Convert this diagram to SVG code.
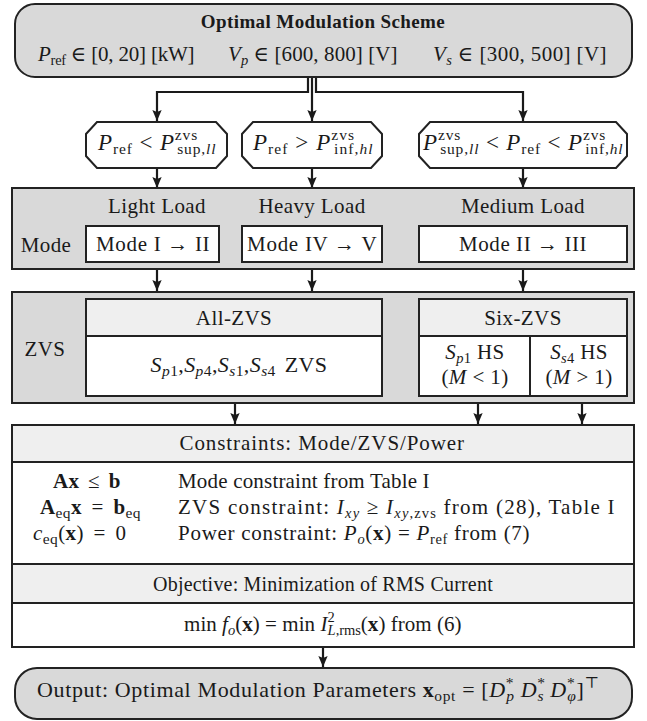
<svg xmlns="http://www.w3.org/2000/svg" width="647" height="721" viewBox="0 0 647 721">
<defs>
<style>
.t{font-family:"Liberation Serif","DejaVu Serif",serif;font-size:21px;fill:#1a1a1a;letter-spacing:0.4px}
.m{font-size:23px}
.b{font-weight:bold}
.i{font-style:italic}
.s{font-size:14.5px;letter-spacing:0.3px}
.ms{font-size:15.5px}
.bf{font-weight:bold}
.pn{fill:#d9d9d9;stroke:#222;stroke-width:2}
.hd{fill:#efefef;stroke:#222;stroke-width:2}
.wb{fill:#fff;stroke:#222;stroke-width:2}
.c{fill:none;stroke:#1a1a1a;stroke-width:2.2}
.ln{fill:none;stroke:#222;stroke-width:2}
</style>
<marker id="ah" markerWidth="11" markerHeight="13" refX="13" refY="5.5" orient="auto" markerUnits="userSpaceOnUse" viewBox="0 0 13 11">
<path d="M0,0 L13,5.5 L0,11 L2.5,5.5 z" fill="#1a1a1a"/>
</marker>
</defs>

<g id="connectors">
<path class="c" d="M308,77 V92 H157 V121" marker-end="url(#ah)"/>
<path class="c" d="M312,77 V121" marker-end="url(#ah)"/>
<path class="c" d="M316,77 V92 H523 V121" marker-end="url(#ah)"/>
<path class="c" d="M157,168 V188" marker-end="url(#ah)"/>
<path class="c" d="M312,168 V188" marker-end="url(#ah)"/>
<path class="c" d="M523,168 V188" marker-end="url(#ah)"/>
<path class="c" d="M157,269 V291" marker-end="url(#ah)"/>
<path class="c" d="M312,269 V291" marker-end="url(#ah)"/>
<path class="c" d="M523,269 V291" marker-end="url(#ah)"/>
<path class="c" d="M235,403 V424" marker-end="url(#ah)"/>
<path class="c" d="M478,403 V424" marker-end="url(#ah)"/>
<path class="c" d="M582,403 V424" marker-end="url(#ah)"/>
<path class="c" d="M323,647 V667" marker-end="url(#ah)"/>
</g>

<g id="start">
<rect class="pn" x="15" y="4" width="617" height="73" rx="20"/>
<text class="t b" x="323" y="28" text-anchor="middle" style="font-size:19px">Optimal Modulation Scheme</text>
<text class="t" x="38" y="61" textLength="157" lengthAdjust="spacing"><tspan class="i">P</tspan><tspan class="s" dy="4">ref</tspan><tspan dy="-4"> ∈ [0, 20] [kW]</tspan></text>
<text class="t" x="228" y="61" textLength="170" lengthAdjust="spacing"><tspan class="i">V</tspan><tspan class="s i" dy="4">p</tspan><tspan dy="-4"> ∈ [600, 800] [V]</tspan></text>
<text class="t" x="433" y="61" textLength="174" lengthAdjust="spacing"><tspan class="i">V</tspan><tspan class="s i" dy="4">s</tspan><tspan dy="-4"> ∈ [300, 500] [V]</tspan></text>
</g>

<g id="cond-light">
<path class="wb" d="M97,122 H216 L227,134 V156 L216,168 H97 L86,156 V134 Z"/>
<text class="t m" x="157" y="150" text-anchor="middle" textLength="118" lengthAdjust="spacing"><tspan class="i">P</tspan><tspan class="ms" dy="4">ref</tspan><tspan dy="-4"> &lt; </tspan><tspan class="i">P</tspan><tspan class="ms" dy="-10">zvs</tspan><tspan class="ms" dx="-21" dy="14">sup,</tspan><tspan class="ms i">ll</tspan></text>
</g>

<g id="cond-heavy">
<path class="wb" d="M253,122 H371 L382,134 V156 L371,168 H253 L242,156 V134 Z"/>
<text class="t m" x="313" y="150" text-anchor="middle" textLength="120" lengthAdjust="spacing"><tspan class="i">P</tspan><tspan class="ms" dy="4">ref</tspan><tspan dy="-4"> &gt; </tspan><tspan class="i">P</tspan><tspan class="ms" dy="-10">zvs</tspan><tspan class="ms" dx="-21" dy="14">inf,</tspan><tspan class="ms i">hl</tspan></text>
</g>

<g id="cond-medium">
<path class="wb" d="M430,122 H616 L627,134 V156 L616,168 H430 L419,156 V134 Z"/>
<text class="t m" x="523" y="150" text-anchor="middle" textLength="200" lengthAdjust="spacing"><tspan class="i">P</tspan><tspan class="ms" dy="-10">zvs</tspan><tspan class="ms" dx="-21" dy="14">sup,</tspan><tspan class="ms i">ll</tspan><tspan dy="-4"> &lt; </tspan><tspan class="i">P</tspan><tspan class="ms" dy="4">ref</tspan><tspan dy="-4"> &lt; </tspan><tspan class="i">P</tspan><tspan class="ms" dy="-10">zvs</tspan><tspan class="ms" dx="-21" dy="14">inf,</tspan><tspan class="ms i">hl</tspan></text>
</g>

<g id="mode-panel">
<rect class="pn" x="12" y="188" width="622" height="81"/>
<text class="t" x="157" y="213" text-anchor="middle">Light Load</text>
<text class="t" x="312" y="213" text-anchor="middle">Heavy Load</text>
<text class="t" x="523" y="213" text-anchor="middle">Medium Load</text>
<text class="t" x="46" y="252" text-anchor="middle">Mode</text>
<rect class="wb" x="86" y="226" width="133" height="36"/>
<text class="t" x="153" y="251" text-anchor="middle" textLength="114" lengthAdjust="spacing">Mode I → II</text>
<rect class="wb" x="242" y="226" width="140" height="36"/>
<text class="t" x="312" y="251" text-anchor="middle" textLength="130" lengthAdjust="spacing">Mode IV → V</text>
<rect class="wb" x="419" y="226" width="208" height="36"/>
<text class="t" x="523" y="251" text-anchor="middle" textLength="128" lengthAdjust="spacing">Mode II → III</text>
</g>

<g id="zvs-panel">
<rect class="pn" x="12" y="292" width="622" height="111"/>
<text class="t" x="45" y="356" text-anchor="middle">ZVS</text>
<rect class="hd" x="86" y="299" width="296" height="37"/>
<rect class="wb" x="86" y="336" width="296" height="60"/>
<text class="t" x="234" y="325" text-anchor="middle">All-ZVS</text>
<text class="t" x="239" y="372" text-anchor="middle" style="font-size:22px"><tspan class="i">S</tspan><tspan class="ms" dy="4"><tspan class="i">p</tspan>1</tspan><tspan dy="-4">,</tspan><tspan class="i">S</tspan><tspan class="ms" dy="4"><tspan class="i">p</tspan>4</tspan><tspan dy="-4">,</tspan><tspan class="i">S</tspan><tspan class="ms" dy="4"><tspan class="i">s</tspan>1</tspan><tspan dy="-4">,</tspan><tspan class="i">S</tspan><tspan class="ms" dy="4"><tspan class="i">s</tspan>4</tspan><tspan dy="-4" dx="3"> ZVS</tspan></text>
<rect class="hd" x="419" y="299" width="208" height="37"/>
<rect class="wb" x="419" y="336" width="208" height="60"/>
<line class="ln" x1="530" y1="336" x2="530" y2="396"/>
<text class="t" x="523" y="325" text-anchor="middle">Six-ZVS</text>
<text class="t" x="475" y="359" text-anchor="middle"><tspan class="i">S</tspan><tspan class="s" dy="4"><tspan class="i">p</tspan>1</tspan><tspan dy="-4"> HS</tspan></text>
<text class="t" x="475" y="384" text-anchor="middle">(<tspan class="i">M</tspan> &lt; 1)</text>
<text class="t" x="579" y="359" text-anchor="middle"><tspan class="i">S</tspan><tspan class="s" dy="4"><tspan class="i">s</tspan>4</tspan><tspan dy="-4"> HS</tspan></text>
<text class="t" x="579" y="384" text-anchor="middle">(<tspan class="i">M</tspan> &gt; 1)</text>
</g>

<g id="optimization">
<rect class="hd" x="12" y="425" width="622" height="37"/>
<rect class="wb" x="12" y="462" width="622" height="102"/>
<rect class="hd" x="12" y="564" width="622" height="39"/>
<rect class="wb" x="12" y="603" width="622" height="44"/>
<text class="t" x="322" y="450" text-anchor="middle" textLength="285" lengthAdjust="spacing">Constraints: Mode/ZVS/Power</text>
<text class="t" x="53" y="488"><tspan class="bf">Ax</tspan><tspan dx="3"> ≤ </tspan><tspan class="bf" dx="3">b</tspan></text>
<text class="t" x="40" y="514"><tspan class="bf">A</tspan><tspan class="ms" dy="4">eq</tspan><tspan class="bf" dy="-4">x</tspan><tspan dx="4"> = </tspan><tspan class="bf" dx="4">b</tspan><tspan class="ms" dy="4">eq</tspan></text>
<text class="t" x="33" y="540"><tspan class="i">c</tspan><tspan class="ms" dy="4">eq</tspan><tspan dy="-4">(</tspan><tspan class="bf">x</tspan>)<tspan dx="4"> = </tspan><tspan dx="4">0</tspan></text>
<text class="t" x="178" y="488" textLength="252" lengthAdjust="spacing">Mode constraint from Table I</text>
<text class="t" x="178" y="514" textLength="437" lengthAdjust="spacing">ZVS constraint: <tspan class="i">I</tspan><tspan class="s i" dy="4">xy</tspan><tspan dy="-4"> ≥ </tspan><tspan class="i">I</tspan><tspan class="s" dy="4"><tspan class="i">xy</tspan>,zvs</tspan><tspan dy="-4"> from (28), Table I</tspan></text>
<text class="t" x="178" y="540" textLength="352" lengthAdjust="spacing">Power constraint: <tspan class="i">P</tspan><tspan class="s i" dy="4">o</tspan><tspan dy="-4">(</tspan><tspan class="bf">x</tspan>) = <tspan class="i">P</tspan><tspan class="s" dy="4">ref</tspan><tspan dy="-4"> from (7)</tspan></text>
<text class="t" x="323" y="591" text-anchor="middle" style="font-size:20px;letter-spacing:0.2px">Objective: Minimization of RMS Current</text>
<text class="t" x="323" y="631" text-anchor="middle" textLength="278" lengthAdjust="spacing">min <tspan class="i">f</tspan><tspan class="s i" dy="4">o</tspan><tspan dy="-4">(</tspan><tspan class="bf">x</tspan>) = min <tspan class="i">I</tspan><tspan class="s" dy="-9">2</tspan><tspan class="s" dx="-7" dy="13"><tspan class="i">L</tspan>,rms</tspan><tspan dy="-4">(</tspan><tspan class="bf">x</tspan>) from (6)</text>
</g>

<g id="output">
<rect class="pn" x="15" y="668" width="617" height="51" rx="22"/>
<text class="t" x="318" y="697" text-anchor="middle" style="font-size:22px;letter-spacing:0" textLength="562" lengthAdjust="spacing">Output: Optimal Modulation Parameters <tspan class="bf">x</tspan><tspan class="ms" dy="4">opt</tspan><tspan dy="-4"> = [</tspan><tspan class="i">D</tspan><tspan class="ms" dy="-9">*</tspan><tspan class="ms i" dx="-8" dy="13">p</tspan><tspan dy="-4"> </tspan><tspan class="i">D</tspan><tspan class="ms" dy="-9">*</tspan><tspan class="ms i" dx="-8" dy="13">s</tspan><tspan dy="-4"> </tspan><tspan class="i">D</tspan><tspan class="ms" dy="-9">*</tspan><tspan class="ms i" dx="-8" dy="13">φ</tspan><tspan dy="-4">]</tspan><tspan class="ms" dy="-9">⊤</tspan></text>
</g>
</svg>
